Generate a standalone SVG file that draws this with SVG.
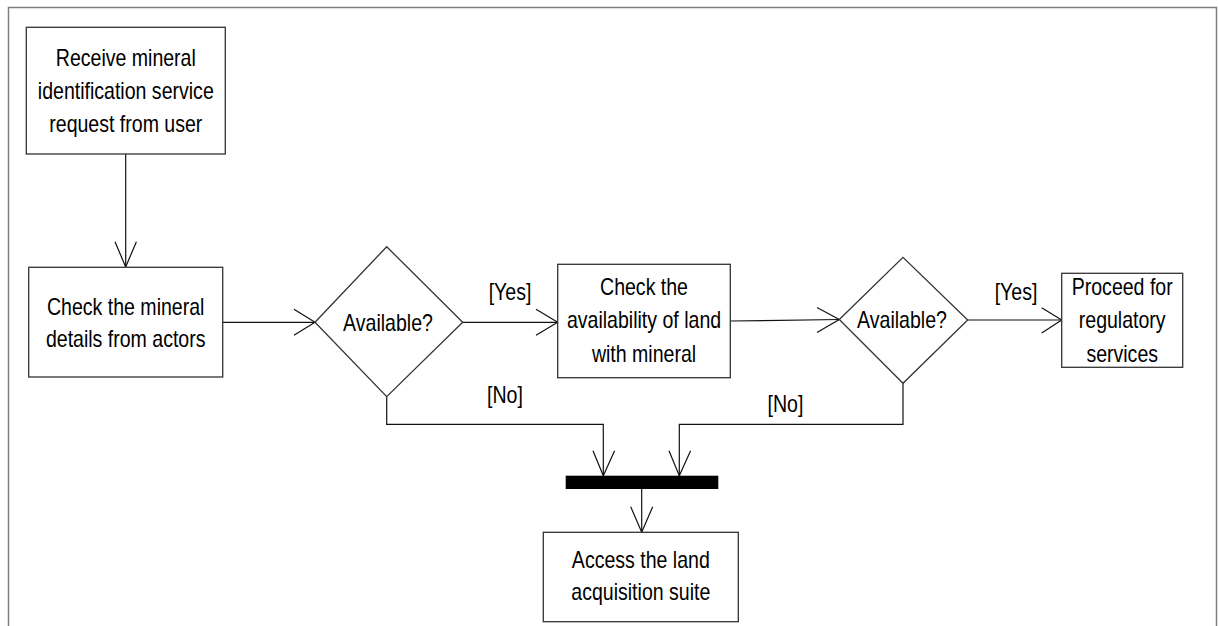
<svg xmlns="http://www.w3.org/2000/svg" width="1219" height="626" viewBox="0 0 1219 626">
  <style>
    .frame { fill: none; stroke: #808080; stroke-width: 1.5; }
    .node { fill: #ffffff; stroke: #333333; stroke-width: 1.3; }
    .bar { fill: #000000; }
    .lbl { font-family: "Liberation Sans", Arial, sans-serif; font-size: 23px; fill: #000000; text-anchor: middle; }
    .edge { fill: none; stroke: #111111; stroke-width: 1.2; }
    .head { fill: none; stroke: #111111; stroke-width: 1.2; }
  </style>
  <rect width="1219" height="626" fill="#ffffff"/>
  <!-- outer frame, open at the bottom -->
  <path class="frame" d="M8.5,630 V7.5 H1216.5 V630"/>

  <!-- labels use a condensed face: Liberation Sans squeezed horizontally -->
  <g id="connectors">
    <!-- request -> check mineral details -->
    <line class="edge" x1="125.7" y1="154" x2="125.7" y2="267"/>
    <polyline class="head" points="115,241.7 125.7,267 136.4,241.7"/>
    <!-- check details -> decision 1 -->
    <line class="edge" x1="222.7" y1="322.3" x2="315" y2="322.3"/>
    <polyline class="head" points="294,309.3 315,322.3 294,335.3"/>
    <!-- decision 1 [Yes] -> check land -->
    <line class="edge" x1="462.7" y1="322.3" x2="557.7" y2="322.3"/>
    <polyline class="head" points="536,309.3 557.7,322.3 536,335.3"/>
    <text class="lbl" transform="translate(510,300) scale(0.85,1)">[Yes]</text>
    <!-- check land -> decision 2 -->
    <line class="edge" x1="730.3" y1="321" x2="839.3" y2="319.5"/>
    <polyline class="head" points="817,307.5 839.3,319.5 817,332.5"/>
    <!-- decision 2 [Yes] -> regulatory -->
    <line class="edge" x1="967.7" y1="320" x2="1061.7" y2="320"/>
    <polyline class="head" points="1041.7,307.7 1061.7,320 1041.7,333"/>
    <text class="lbl" transform="translate(1016,299.5) scale(0.85,1)">[Yes]</text>
    <!-- decision 1 [No] -> join bar -->
    <polyline class="edge" points="386.7,396.7 386.7,424.3 603.3,424.3 603.3,475.7"/>
    <polyline class="head" points="593,450.7 603.3,475.7 614.6,450.7"/>
    <text class="lbl" transform="translate(505,402.7) scale(0.85,1)">[No]</text>
    <!-- decision 2 [No] -> join bar -->
    <polyline class="edge" points="903,383.3 903,424.3 679.3,424.3 679.3,475.7"/>
    <polyline class="head" points="669,450.7 679.3,475.7 690.6,450.7"/>
    <text class="lbl" transform="translate(785.5,411.7) scale(0.85,1)">[No]</text>
    <!-- join bar -> land acquisition -->
    <line class="edge" x1="641.7" y1="489" x2="641.7" y2="532.3"/>
    <polyline class="head" points="630.7,506.7 641.7,532.3 652.7,506.7"/>
  </g>

  <g id="receive-request">
    <rect class="node" x="26.3" y="27.3" width="199" height="126.7"/>
    <text class="lbl" transform="translate(125.8,66) scale(0.85,1)">Receive mineral</text>
    <text class="lbl" transform="translate(125.8,99) scale(0.85,1)">identification service</text>
    <text class="lbl" transform="translate(125.8,132) scale(0.85,1)">request from user</text>
  </g>

  <g id="check-mineral-details">
    <rect class="node" x="28.7" y="267.3" width="194" height="109.7"/>
    <text class="lbl" transform="translate(125.7,315) scale(0.85,1)">Check the mineral</text>
    <text class="lbl" transform="translate(125.7,347) scale(0.85,1)">details from actors</text>
  </g>

  <g id="decision-mineral">
    <polygon class="node" points="315,322.3 386.7,246.7 462.7,322.3 386.7,396.7"/>
    <text class="lbl" transform="translate(388,330.5) scale(0.85,1)">Available?</text>
  </g>

  <g id="check-land">
    <rect class="node" x="557.7" y="264.3" width="172.6" height="113.4"/>
    <text class="lbl" transform="translate(644,295) scale(0.85,1)">Check the</text>
    <text class="lbl" transform="translate(644,328.3) scale(0.85,1)">availability of land</text>
    <text class="lbl" transform="translate(644,361.7) scale(0.85,1)">with mineral</text>
  </g>

  <g id="decision-land">
    <polygon class="node" points="839.3,319.5 903,257.3 967.7,320 903,383.3"/>
    <text class="lbl" transform="translate(902,328) scale(0.85,1)">Available?</text>
  </g>

  <g id="regulatory-services">
    <rect class="node" x="1061.7" y="273.3" width="121" height="94"/>
    <text class="lbl" transform="translate(1122.2,295) scale(0.85,1)">Proceed for</text>
    <text class="lbl" transform="translate(1122.2,328) scale(0.85,1)">regulatory</text>
    <text class="lbl" transform="translate(1122.2,361.7) scale(0.85,1)">services</text>
  </g>

  <g id="join-bar">
    <rect class="bar" x="565.7" y="475.7" width="152.6" height="13.3"/>
  </g>

  <g id="land-acquisition">
    <rect class="node" x="543.3" y="532.3" width="195" height="89.4"/>
    <text class="lbl" transform="translate(640.8,568.3) scale(0.85,1)">Access the land</text>
    <text class="lbl" transform="translate(640.8,600) scale(0.85,1)">acquisition suite</text>
  </g>
</svg>
